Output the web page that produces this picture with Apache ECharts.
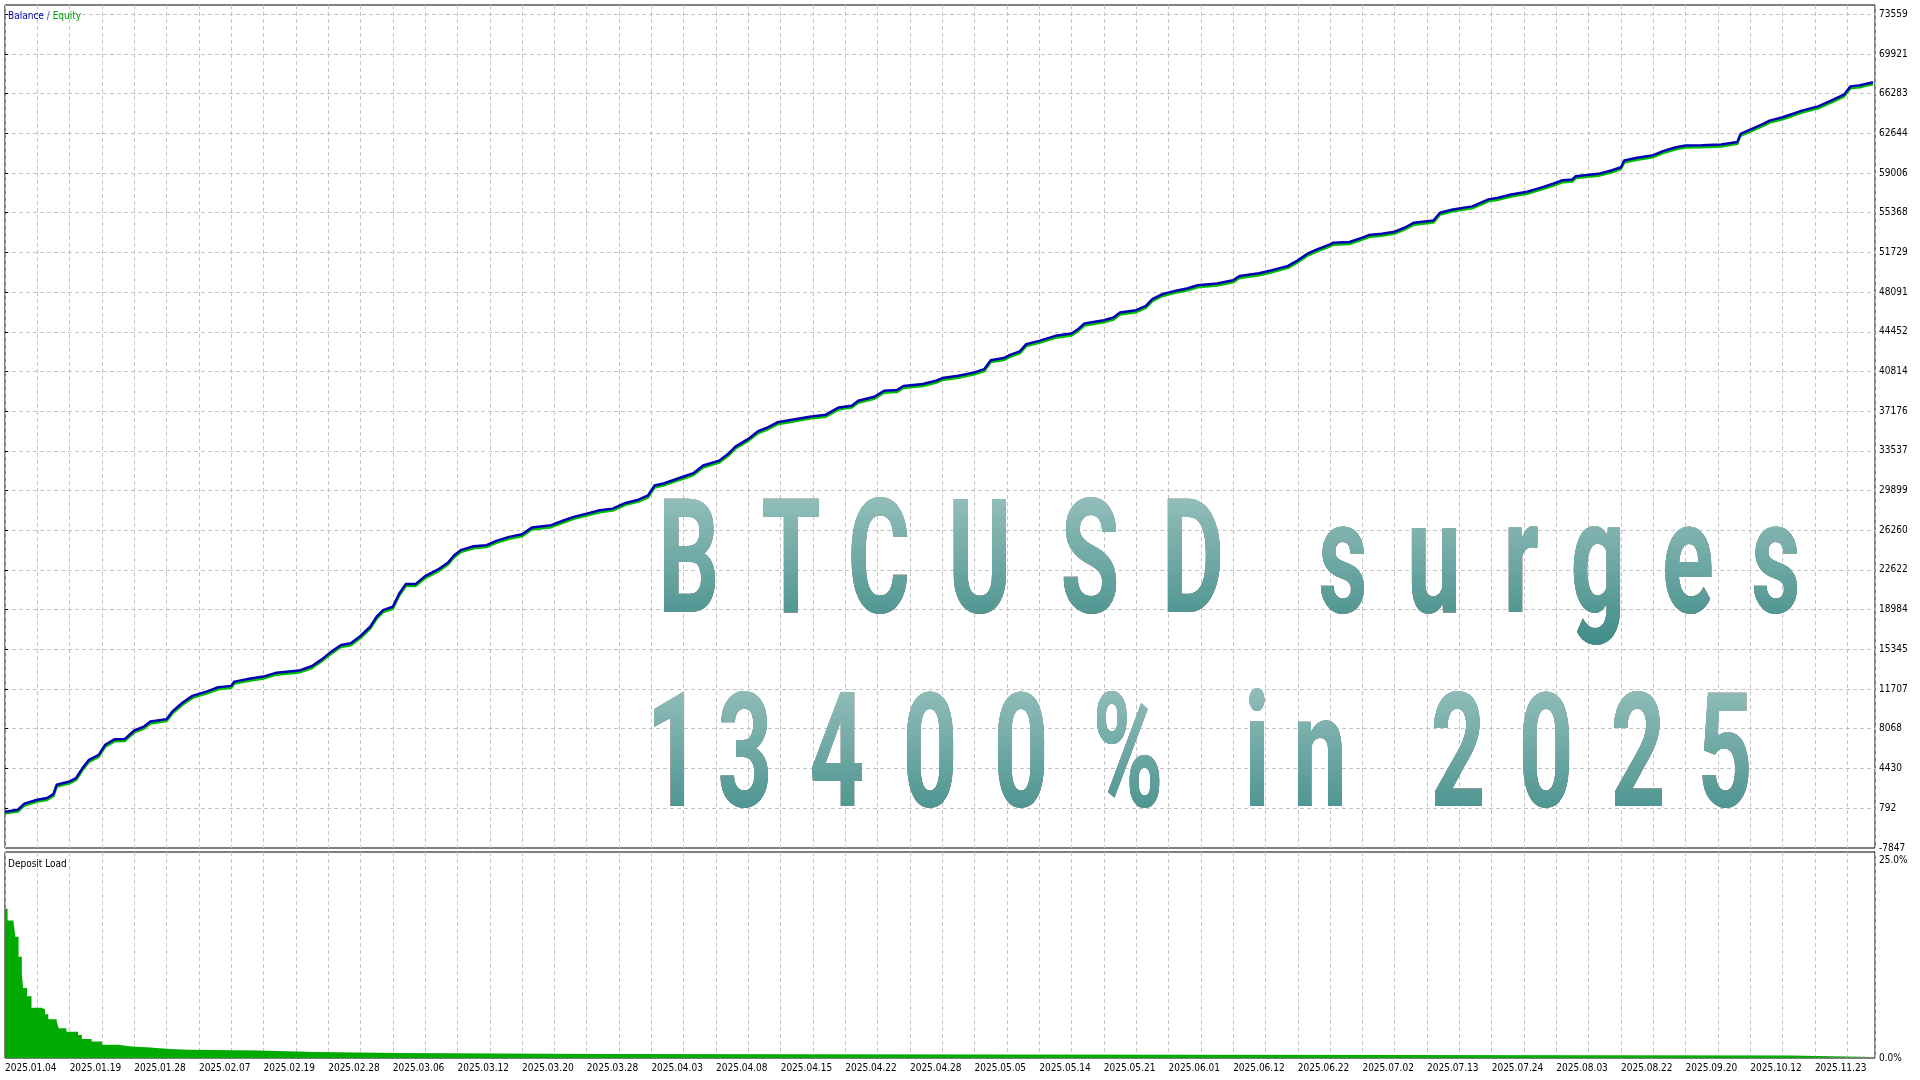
<!DOCTYPE html>
<html><head><meta charset="utf-8">
<script src="https://cdn.jsdelivr.net/npm/echarts@6/dist/echarts.min.js"></script>
<style>html,body{margin:0;padding:0;background:#fff}#c{width:1920px;height:1080px}</style>
</head><body><div id="c"></div>
<script>
// ---------------- data ----------------
const dateLabels = ['2025.01.04','2025.01.19','2025.01.28','2025.02.07','2025.02.19','2025.02.28','2025.03.06','2025.03.12','2025.03.20','2025.03.28','2025.04.03','2025.04.08','2025.04.15','2025.04.22','2025.04.28','2025.05.05','2025.05.14','2025.05.21','2025.06.01','2025.06.12','2025.06.22','2025.07.02','2025.07.13','2025.07.24','2025.08.03','2025.08.22','2025.09.20','2025.10.12','2025.11.23'];
const dealsPerLabel = 100;
const dealsPerGrid = 50;
const dealMax = 2893;
const yTickValues = [792,4430,8068,11707,15345,18984,22622,26260,29899,33537,37176,40814,44452,48091,51729,55368,59006,62644,66283,69921,73559];
const yMin = -2874, yMax = 74411;
const yBottomLabel = '-7847';
const loadTicks = [0, 25];
const loadMax = 25;

const balance = [[0,450],[20,640],[30,1190],[50,1550],[65,1710],[75,2070],[80,2930],[100,3230],[110,3540],[120,4450],[130,5210],[145,5670],[155,6590],[170,7100],[185,7110],[200,7900],[215,8260],[225,8720],[250,8940],[260,9700],[275,10460],[290,11070],[315,11530],[330,11860],[350,11990],[355,12380],[380,12660],[400,12840],[420,13200],[455,13390],[475,13810],[490,14420],[505,15130],[520,15740],[535,15890],[550,16560],[565,17410],[575,18330],[585,18940],[600,19240],[610,20460],[620,21320],[635,21320],[650,22050],[670,22660],[685,23270],[695,23970],[705,24430],[725,24790],[745,24890],[760,25280],[780,25650],[800,25890],[815,26500],[845,26720],[865,27170],[880,27480],[900,27780],[920,28090],[940,28240],[960,28760],[980,29060],[995,29460],[1005,30360],[1020,30570],[1050,31180],[1065,31490],[1080,32190],[1105,32640],[1120,33320],[1130,33930],[1150,34630],[1165,35330],[1180,35690],[1195,36150],[1215,36360],[1245,36670],[1270,36850],[1290,37520],[1310,37680],[1320,38130],[1345,38500],[1360,39050],[1380,39110],[1390,39480],[1420,39660],[1440,39960],[1450,40210],[1475,40420],[1500,40730],[1515,41030],[1525,41850],[1545,42040],[1555,42340],[1570,42650],[1580,43320],[1600,43620],[1625,44080],[1650,44290],[1660,44690],[1670,45210],[1700,45510],[1715,45760],[1725,46220],[1750,46430],[1765,46830],[1775,47440],[1790,47890],[1810,48200],[1830,48440],[1845,48720],[1875,48870],[1900,49170],[1910,49570],[1940,49810],[1960,50090],[1975,50330],[1985,50490],[2000,51000],[2015,51610],[2030,52010],[2050,52470],[2055,52620],[2080,52680],[2100,53080],[2110,53320],[2130,53440],[2150,53630],[2165,53990],[2180,54450],[2210,54660],[2220,55370],[2240,55670],[2270,55950],[2295,56590],[2310,56740],[2330,57040],[2355,57290],[2375,57650],[2395,58020],[2410,58350],[2425,58420],[2430,58720],[2465,58930],[2485,59240],[2500,59540],[2505,60150],[2525,60400],[2550,60640],[2565,61010],[2585,61370],[2600,61530],[2625,61560],[2655,61620],[2680,61860],[2685,62590],[2700,62990],[2720,63510],[2730,63810],[2750,64120],[2765,64420],[2780,64730],[2805,65120],[2825,65640],[2845,66190],[2855,66950],[2870,67050],[2880,67200],[2890,67320]];

const equity = [[0,300],[20,470],[30,1010],[50,1380],[65,1530],[75,1890],[80,2750],[100,3050],[110,3360],[120,4270],[130,5030],[145,5490],[155,6410],[170,6920],[185,6930],[200,7720],[215,8080],[225,8540],[250,8760],[260,9520],[275,10280],[290,10890],[315,11350],[330,11680],[350,11810],[355,12200],[380,12480],[400,12660],[420,13020],[455,13210],[475,13630],[490,14240],[505,14950],[520,15560],[535,15710],[550,16380],[565,17230],[575,18150],[585,18760],[600,19060],[610,20280],[620,21140],[635,21140],[650,21870],[670,22480],[685,23090],[695,23790],[705,24250],[725,24610],[745,24710],[760,25100],[780,25470],[800,25710],[815,26320],[845,26540],[865,26990],[880,27300],[900,27600],[920,27910],[940,28060],[960,28580],[980,28880],[995,29280],[1005,30180],[1020,30390],[1050,31000],[1065,31310],[1080,32010],[1105,32460],[1120,33140],[1130,33750],[1150,34450],[1165,35150],[1180,35510],[1195,35970],[1215,36180],[1245,36490],[1270,36670],[1290,37340],[1310,37500],[1320,37950],[1345,38320],[1360,38870],[1380,38930],[1390,39300],[1420,39480],[1440,39780],[1450,40030],[1475,40240],[1500,40550],[1515,40850],[1525,41670],[1545,41860],[1555,42160],[1570,42470],[1580,43140],[1600,43440],[1625,43900],[1650,44110],[1660,44510],[1670,45030],[1700,45330],[1715,45580],[1725,46040],[1750,46250],[1765,46650],[1775,47260],[1790,47710],[1810,48020],[1830,48260],[1845,48540],[1875,48690],[1900,48990],[1910,49390],[1940,49630],[1960,49910],[1975,50150],[1985,50310],[2000,50820],[2015,51430],[2030,51830],[2050,52290],[2055,52440],[2080,52500],[2100,52900],[2110,53140],[2130,53260],[2150,53450],[2165,53810],[2180,54270],[2210,54480],[2220,55190],[2240,55490],[2270,55770],[2295,56410],[2310,56560],[2330,56860],[2355,57110],[2375,57470],[2395,57840],[2410,58170],[2425,58240],[2430,58540],[2465,58750],[2485,59060],[2500,59360],[2505,59970],[2525,60220],[2550,60460],[2565,60830],[2585,61190],[2600,61350],[2625,61380],[2655,61440],[2680,61680],[2685,62410],[2700,62810],[2720,63330],[2730,63630],[2750,63940],[2765,64240],[2780,64550],[2805,64940],[2825,65460],[2845,66010],[2855,66770],[2870,66870],[2880,67020],[2890,67140]];

const depositLoad = [[0,18.1],[4,16.7],[13,16.7],[16,14.7],[21,12.3],[26,10.3],[28,8.5],[34,7.5],[41,6.1],[57,5.9],[62,5.3],[67,4.7],[80,4.4],[83,3.6],[95,3.2],[113,2.8],[119,2.3],[134,2.0],[150,1.6],[175,1.4],[196,1.3],[219,1.1],[255,1.0],[284,0.9],[392,0.73],[480,0.61],[608,0.48],[916,0.3],[2761,0.12],[2893,0.12]];

const legendParts = ['Balance', '/', 'Equity'];
const subTitle = 'Deposit Load';
const headline1 = 'BTCUSD surges';
const headline2 = '13400% in 2025';

// ---------------- layout / style ----------------
const smallFont = "'Liberation Sans Narrow','DejaVu Sans Condensed','Liberation Sans',sans-serif";
const smallSize = 10;
const headSize = 160;
const gridLine = {show: true, lineStyle: {color: '#c4c4c4', type: [4, 3], width: 1}};
const head1X = [689,791,879,980,1090,1193,null,1343,1434,1521,1598,1688,1776];
const head2X = [674,745,837,930,1021,1128,null,1257,1320,null,1458,1546,1638,1725];

const graphics = [];
function addHead(text, xs, y) {
  [...text].forEach((ch, i) => {
    if (ch === ' ' || xs[i] == null) return;
    graphics.push({
      type: 'text', x: xs[i], y: y, scaleX: 0.6, z: 10, silent: true,
      style: {text: ch, fontSize: headSize, fontWeight: 'bold', fontFamily: 'Roboto',
              align: 'center', verticalAlign: 'middle', fill: '#000'}
    });
  });
}
addHead(headline1, head1X, 572);
addHead(headline2, head2X, 766);
// vertical teal gradient laid over the (black) headline glyphs with a 'lighten' blend:
// black glyph pixels take the gradient colour, white/grey background stays unchanged.
function tealBand(y0, y1, cTop, cBot) {
  graphics.push({
    type: 'rect', z: 20, silent: true,
    shape: {x: 652, y: y0, width: 1170, height: y1 - y0},
    style: {blend: 'lighten',
            fill: new echarts.graphic.LinearGradient(0, 0, 0, 1, [{offset: 0, color: cTop}, {offset: 1, color: cBot}])}
  });
}
tealBand(496, 652, '#93BEBB', '#3C8A86');
tealBand(684, 816, '#93BEBB', '#4A938F');

graphics.push({
  type: 'text', x: 8, y: 16, z: 11, silent: true,
  style: {text: '{b|' + legendParts[0] + '} {s|' + legendParts[1] + '} {e|' + legendParts[2] + '}',
          verticalAlign: 'middle',
          rich: {b: {fill: '#0000A0', color: '#0000A0', font: smallSize + 'px ' + smallFont},
                 s: {fill: '#555599', color: '#555599', font: smallSize + 'px ' + smallFont},
                 e: {fill: '#00A000', color: '#00A000', font: smallSize + 'px ' + smallFont}},
          font: smallSize + 'px ' + smallFont}
});
graphics.push({
  type: 'text', x: 8, y: 864, z: 11, silent: true,
  style: {text: subTitle, fill: '#000', font: smallSize + 'px ' + smallFont, verticalAlign: 'middle'}
});

const chart = echarts.init(document.getElementById('c'), null, {renderer: 'canvas'});
chart.setOption({
  animation: false,
  backgroundColor: '#fff',
  grid: [
    {left: 5, right: 45, top: 5, bottom: 232, show: true, borderColor: '#000', borderWidth: 1, backgroundColor: '#fff'},
    {left: 5, right: 45, top: 852, bottom: 22, show: true, borderColor: '#000', borderWidth: 1, backgroundColor: '#fff'}
  ],
  xAxis: [
    {gridIndex: 0, type: 'value', min: 0, max: dealMax, interval: dealsPerGrid,
     axisLine: {show: false}, axisTick: {show: false}, axisLabel: {show: false}, splitLine: gridLine},
    {gridIndex: 1, type: 'value', min: 0, max: dealMax, interval: dealsPerGrid,
     axisLine: {show: false}, axisTick: {show: false}, splitLine: gridLine,
     axisLabel: {show: true, align: 'left', margin: 5, fontSize: smallSize, fontFamily: smallFont, color: '#000',
       formatter: v => (v % dealsPerLabel === 0 && v / dealsPerLabel < dateLabels.length) ? dateLabels[v / dealsPerLabel] : ''}}
  ],
  yAxis: [
    {gridIndex: 0, type: 'value', position: 'right', min: yMin, max: yMax,
     axisLine: {show: false},
     axisTick: {show: true, customValues: yTickValues, length: 3, lineStyle: {color: '#000'}},
     axisLabel: {customValues: [yMin].concat(yTickValues), margin: 4, fontSize: smallSize, fontFamily: smallFont, color: '#000',
       formatter: v => (v === yMin ? yBottomLabel : String(v))},
     splitLine: gridLine},
    {gridIndex: 1, type: 'value', position: 'right', min: 0, max: loadMax,
     axisLine: {show: false}, axisTick: {show: false}, splitLine: {show: false},
     axisLabel: {customValues: loadTicks, margin: 4, fontSize: smallSize, fontFamily: smallFont, color: '#000',
       formatter: v => (v === loadMax ? '{t|' + v.toFixed(1) + '%}' : v.toFixed(1) + '%'),
       rich: {t: {padding: [16, 0, 0, 0], fontSize: smallSize, fontFamily: smallFont, color: '#000'}}}}
  ],
  series: [
    {name: 'Equity', type: 'line', xAxisIndex: 0, yAxisIndex: 0, data: equity, showSymbol: false, symbol: 'none',
     lineStyle: {color: '#00C000', width: 2.5}, itemStyle: {color: '#00C000'}, z: 2},
    {name: 'Balance', type: 'line', xAxisIndex: 0, yAxisIndex: 0, data: balance, showSymbol: false, symbol: 'none',
     lineStyle: {color: '#0000B4', width: 2.5}, itemStyle: {color: '#0000B4'}, z: 3},
    {name: 'Deposit Load', type: 'line', xAxisIndex: 1, yAxisIndex: 1, data: depositLoad, step: 'end',
     showSymbol: false, symbol: 'none', lineStyle: {width: 0, color: '#00AA00'},
     areaStyle: {color: '#00AA00', opacity: 1}, itemStyle: {color: '#00AA00'}}
  ],
  graphic: graphics
});
</script>
</body></html>
